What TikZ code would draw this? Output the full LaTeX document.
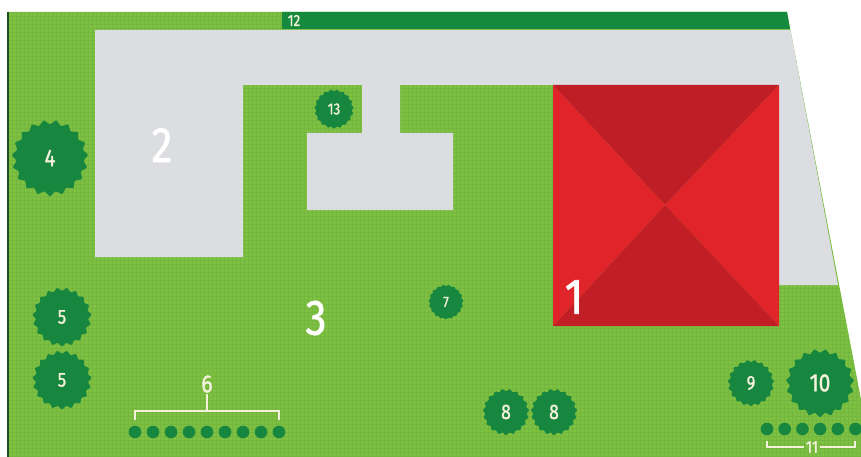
\documentclass[tikz,border=0pt]{standalone}
\usepackage{fontspec}
\setmainfont{Fira Sans}[FakeStretch=0.84]
\newfontfamily\plotfont{Fira Sans}[FakeStretch=0.84, FakeBold=1.2]
\usetikzlibrary{shapes.geometric}

\definecolor{lawn}{HTML}{7CC142}
\definecolor{paving}{HTML}{DCDDE0}
\definecolor{shrub}{HTML}{17873F}
\definecolor{stripgreen}{HTML}{168A3C}
\definecolor{roofdark}{HTML}{C01E26}
\definecolor{rooflight}{HTML}{E1232A}
\definecolor{labelcream}{HTML}{F3F1DC}
\definecolor{edgedark}{HTML}{1F4D22}

\tikzset{
  tree/.style={star, star points=19, star point ratio=0.87, fill=shrub,
    inner sep=0pt, text=labelcream, rounded corners=1pt},
  hedgeball/.style={circle, fill=shrub, minimum size=12.6pt, inner sep=0pt},
  bracket/.style={draw=labelcream, line width=1.3pt},
  biglabel/.style={text=white, font=\plotfont\fontsize{50}{50}\selectfont},
}

\begin{document}
\begin{tikzpicture}[x=1pt, y=-1pt]
\useasboundingbox (0,0) rectangle (861,457);
\clip (0,0) rectangle (861,457);

% plot of land
\fill[lawn] (8,12) -- (787,12) -- (872,457) -- (8,457) -- cycle;
\begin{scope}
  \clip (8,12) -- (787,12) -- (872,457) -- (8,457) -- cycle;
  \draw[black!40!lawn, opacity=0.12, line width=0.3pt, step=4pt] (8,12) grid (872,457);
\end{scope}
\draw[edgedark, line width=2.5pt] (8,12) -- (8,457);

% hedge strip along the top boundary
\fill[stripgreen] (282,12) -- (787,12) -- (790,29) -- (282,29) -- cycle;
\node[text=labelcream, font=\plotfont\fontsize{16}{16}\selectfont] (n12) at (294,20.5) {12};

% paved areas
\fill[paving] (95,30) -- (790.5,30) -- (838,285) -- (778,285) -- (778,85)
  -- (400,85) -- (400,133) -- (453,133) -- (453,210) -- (307,210) -- (307,133)
  -- (362,133) -- (362,85) -- (243,85) -- (243,257) -- (95,257) -- cycle;

% house with hip roof
\coordinate (hNW) at (553,85);
\coordinate (hNE) at (779,85);
\coordinate (hSE) at (779,326);
\coordinate (hSW) at (553,326);
\coordinate (apex) at (665,205);
\fill[roofdark] (hNW) -- (hNE) -- (apex) -- cycle;
\fill[rooflight] (hNE) -- (hSE) -- (apex) -- cycle;
\fill[roofdark!95!rooflight] (hSE) -- (hSW) -- (apex) -- cycle;
\fill[rooflight] (hSW) -- (hNW) -- (apex) -- cycle;

% area labels
\node[biglabel] (n1) at (574,297) {1};
\node[biglabel] (n2) at (162,145) {2};
\node[biglabel] (n3) at (316,318) {3};

% trees and shrubs
\node[tree, minimum size=67pt, font=\plotfont\fontsize{24}{24}\selectfont] (t4) at (50,158) {4};
\node[tree, minimum size=35pt, font=\plotfont\fontsize{16}{16}\selectfont] (t13) at (334,109) {13};
\node[tree, minimum size=52pt, font=\plotfont\fontsize{20}{20}\selectfont] (t5a) at (62,317) {5};
\node[tree, minimum size=52pt, font=\plotfont\fontsize{20}{20}\selectfont] (t5b) at (62,380) {5};
\node[tree, minimum size=31pt, font=\plotfont\fontsize{15}{15}\selectfont] (t7) at (446,302) {7};
\node[tree, minimum size=41pt, font=\plotfont\fontsize{21}{21}\selectfont] (t8a) at (506,412) {8};
\node[tree, minimum size=41pt, font=\plotfont\fontsize{21}{21}\selectfont] (t8b) at (554,412) {8};
\node[tree, minimum size=41pt, font=\plotfont\fontsize{20}{20}\selectfont] (t9) at (751,383) {9};
\node[tree, minimum size=60pt, font=\plotfont\fontsize{25}{25}\selectfont] (t10) at (820,383) {10};

% hedge 6
\foreach \i in {0,...,8}
  \node[hedgeball] (hA\i) at ({135+18*\i},432) {};
\coordinate (b6l) at (135,420);
\coordinate (b6r) at (279,420);
\coordinate (b6m) at (207,411);
\node[text=labelcream, font=\plotfont\fontsize{25}{25}\selectfont, inner sep=1pt] (n6) at (207,384) {6};
\draw[bracket] (b6l) -- ++(0,-9) -| (b6r);
\draw[bracket] (b6m) -- (n6.south);

% hedge 11
\foreach \i in {0,...,5}
  \node[hedgeball] (hB\i) at ({767+17.7*\i},429) {};
\coordinate (b11l) at (767,441);
\coordinate (b11r) at (855,441);
\node[text=labelcream, font=\plotfont\fontsize{17}{17}\selectfont, inner sep=2pt] (n11) at (812,447) {11};
\draw[bracket] (b11l) |- (n11.west);
\draw[bracket] (n11.east) -| (b11r);
\end{tikzpicture}
\end{document}
